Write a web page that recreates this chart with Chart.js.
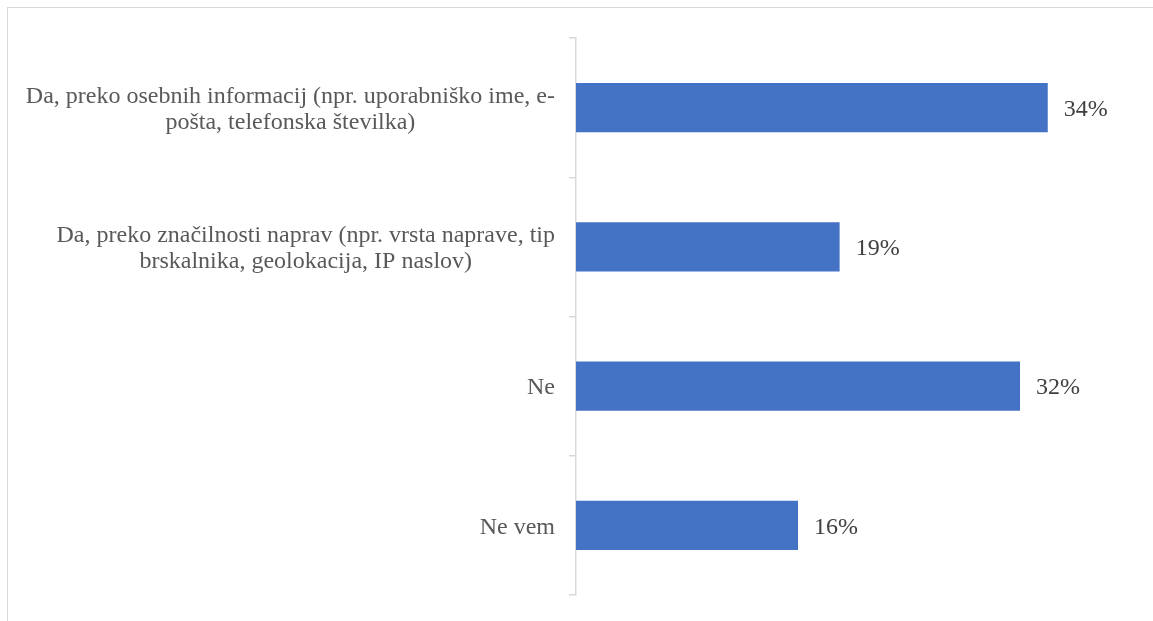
<!DOCTYPE html>
<html>
<head>
<meta charset="utf-8">
<script src="https://cdn.jsdelivr.net/npm/chart.js@4/dist/chart.umd.min.js"></script>
<style>
  html, body { margin: 0; padding: 0; background: #fff; }
  #wrap { position: relative; width: 1153px; height: 621px; overflow: hidden; }
  #frame { position: absolute; left: 7px; top: 7px; width: 1200px; height: 700px;
           border-top: 1.5px solid #d9d9d9; border-left: 1.5px solid #d9d9d9; }
  canvas { position: absolute; left: 0; top: 0; }
</style>
</head>
<body>
<div id="wrap">
  <div id="frame"></div>
  <canvas id="chart" width="1153" height="621"></canvas>
</div>
<script>
// Answer categories (each entry is the list of wrapped lines)
const categories = [
  ["Da, preko osebnih informacij (npr. uporabniško ime, e-", "pošta, telefonska številka)"],
  ["Da, preko značilnosti naprav (npr. vrsta naprave, tip", "brskalnika, geolokacija, IP naslov)"],
  ["Ne"],
  ["Ne vem"]
];
// Share of respondents, in percent
const shares = [34, 19, 32, 16];

const FONT = '"Liberation Serif", "Times New Roman", serif';
const TEXT_SHIFT = 2; // optical vertical centring of serif text

// Category labels: right-aligned block, lines centred within the block
const categoryLabels = {
  id: 'categoryLabels',
  afterDraw(chart) {
    const ctx = chart.ctx;
    const y = chart.scales.y;
    const right = y.right - 21;
    const lineH = 26;
    ctx.save();
    ctx.font = '24px ' + FONT;
    ctx.fillStyle = '#595959';
    ctx.textAlign = 'center';
    ctx.textBaseline = 'middle';
    categories.forEach((lines, i) => {
      const cy = y.getPixelForValue(i) + TEXT_SHIFT;
      const w = Math.max(...lines.map(l => ctx.measureText(l).width));
      const cx = right - w / 2;
      lines.forEach((line, j) => {
        ctx.fillText(line, cx, cy + (j - (lines.length - 1) / 2) * lineH);
      });
    });
    ctx.restore();
  }
};

// Value labels at the end of each bar
const valueLabels = {
  id: 'valueLabels',
  afterDatasetsDraw(chart) {
    const ctx = chart.ctx;
    const meta = chart.getDatasetMeta(0);
    ctx.save();
    ctx.font = '24px ' + FONT;
    ctx.fillStyle = '#404040';
    ctx.textAlign = 'left';
    ctx.textBaseline = 'middle';
    meta.data.forEach((bar, i) => {
      ctx.fillText(shares[i] + '%', bar.x + 16, bar.y + TEXT_SHIFT);
    });
    ctx.restore();
  }
};

new Chart(document.getElementById('chart'), {
  type: 'bar',
  data: {
    labels: categories.map(c => c.join(' ')),
    datasets: [{
      data: shares,
      backgroundColor: '#4472C4',
      borderWidth: 0,
      categoryPercentage: 1,
      barPercentage: 0.352
    }]
  },
  options: {
    indexAxis: 'y',
    responsive: false,
    animation: false,
    devicePixelRatio: 1,
    layout: { padding: { top: 38, bottom: 26, right: 22, left: 0 } },
    plugins: {
      legend: { display: false },
      tooltip: { enabled: false }
    },
    scales: {
      x: {
        display: false,
        min: 0,
        max: 40
      },
      y: {
        offset: true,
        ticks: { display: false },
        grid: {
          offset: true,
          drawOnChartArea: false,
          drawTicks: true,
          tickLength: 7,
          color: '#d9d9d9',
          lineWidth: 1.5
        },
        border: { display: true, color: '#d9d9d9', width: 1.5 },
        afterFit(scale) { scale.width = 576; }
      }
    }
  },
  plugins: [categoryLabels, valueLabels]
});
</script>
</body>
</html>
